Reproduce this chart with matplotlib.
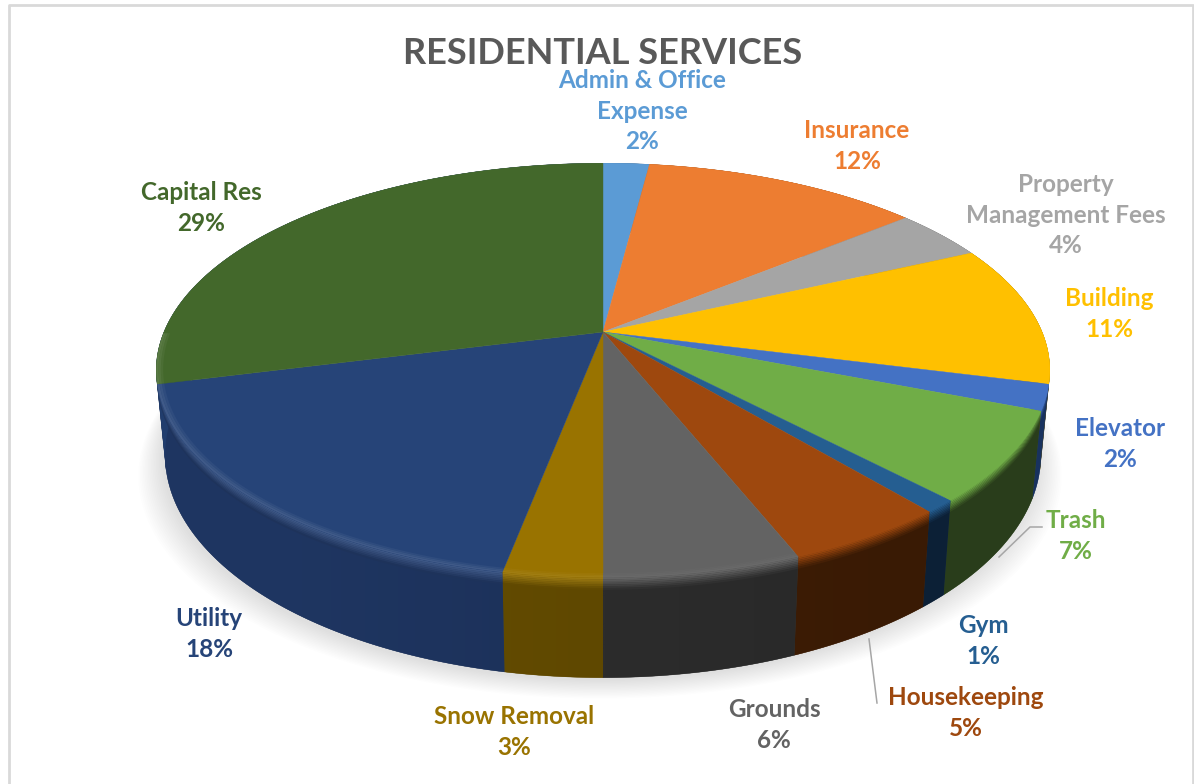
import numpy as np
import matplotlib
matplotlib.use("Agg")
import matplotlib.pyplot as plt
from matplotlib.colors import to_rgb
from matplotlib.patches import Polygon

plt.rcParams['font.family'] = ['Lato', 'DejaVu Sans']

names = ["Admin & Office\nExpense", "Insurance", "Property\nManagement Fees", "Building", "Elevator", "Trash",
         "Gym", "Housekeeping", "Grounds", "Snow Removal", "Utility", "Capital Res"]
shares = [2, 12, 4, 11, 2, 7, 1, 5, 6, 3, 18, 29]

top_colors = ["#5B9BD5", "#ED7D31", "#A5A5A5", "#FFC000", "#4472C4", "#70AD47",
              "#255E91", "#9E480E", "#636363", "#997300", "#264478", "#43682B"]
# the capital wall never shows below its bevel, the utility wall runs up to the outline there
side_colors = ["#33597c", "#8a4a1c", "#606060", "#7f6000", "#1b3768", "#2e441e",
               "#0e243c", "#3f1d05", "#2c2c2c", "#5f4800", "#1c3159", "#1f3864"]

label_xy = [(642, 111), (857, 146), (1066, 215), (1109, 314), (1120, 444), (1076, 536),
            (983, 641), (966, 713), (774, 725), (514, 732), (209, 634), (201, 208)]

# pie projection, in pixels
cx, cy = 603, 332
ax_x, ax_y = 439, 200
persp = 0.1855
depth = 81.5
shrink = 0.98


def rim(theta, r=1.0):
    X, Y = np.sin(theta) * r, np.cos(theta) * r
    w = 1 + persp * Y
    return cx + ax_x * X / w, cy - ax_y * Y / w


def low_rim(theta):
    x, y = rim(theta)
    w = 1 + persp * np.cos(theta)
    return cx + (x - cx) * shrink, y + depth / w


def wall_band(theta, t0, t1):
    x, y = rim(theta)
    xl, yl = low_rim(theta)
    upper = np.c_[x + (xl - x) * t0, y + (yl - y) * t0]
    lower = np.c_[x + (xl - x) * t1, y + (yl - y) * t1]
    return np.r_[upper, lower[::-1]]


def mix(a, b, t):
    return tuple(np.array(a) * (1 - t) + np.array(b) * t)


fig = plt.figure(figsize=(11.94, 7.84), dpi=100)
ax = fig.add_axes([0, 0, 1, 1])
ax.axis('off')

ax.plot([9, 9, 1193, 1193], [784, 5, 5, 784], color="#d9d9d9", lw=2)

# soft drop shadow under the pie
full = np.linspace(0, 2 * np.pi, 361)
bx, by = low_rim(full)
for grow in np.linspace(24, 0, 16):
    sx = cx + (bx - cx) * (1 + grow / 440) - 3
    sy = by + grow * 0.75 + 3
    ax.add_patch(Polygon(np.c_[sx, sy], closed=True, fc="black", ec="none", alpha=0.0085, zorder=1))

edges = np.cumsum([0] + shares) / sum(shares) * 2 * np.pi
bevel = np.linspace(0, 0.12, 8)

for i in range(len(shares)):
    top = to_rgb(top_colors[i])
    side = np.array(to_rgb(side_colors[i]))
    th = np.linspace(edges[i], edges[i + 1], 120)
    mid = (edges[i] + edges[i + 1]) / 2
    lit = 0.12 * np.clip(0.5 - np.sin(mid), 0, 1)
    rim_color = mix(top, (1, 1, 1), lit)

    # wall, a little brighter towards the left
    outline = wall_band(th, 0, 1)
    x0, x1 = outline[:, 0].min(), outline[:, 0].max()
    xs = np.linspace(x0, x1, 64)
    tone = 1 - 0.09 * np.clip((xs - cx) / 300, -1, 1)
    shade = np.clip(side[None, None, :] * tone[None, :, None], 0, 1)
    wall = Polygon(outline, closed=True, fc=side_colors[i], ec=side_colors[i], lw=0.3, zorder=2)
    ax.add_patch(wall)
    img = ax.imshow(shade, extent=(x0, x1, outline[:, 1].max(), outline[:, 1].min()), aspect='auto',
                    interpolation='bilinear', zorder=2.1)
    img.set_clip_path(wall)

    # bevel fading from the rim into the wall
    for t0, t1 in zip(bevel[:-1], bevel[1:]):
        col = mix(rim_color, side * 0.98, (t0 + t1) / 2 / bevel[-1])
        ax.add_patch(Polygon(wall_band(th, t0, t1 + 0.003), closed=True, fc=col, ec="none", zorder=2.2))

for i in range(len(shares)):
    top = to_rgb(top_colors[i])
    th = np.linspace(edges[i], edges[i + 1], 120)
    x, y = rim(th)
    ax.add_patch(Polygon(np.r_[[[cx, cy]], np.c_[x, y]], closed=True, fc=top_colors[i], ec=top_colors[i],
                         lw=0.3, zorder=3))

    # rim highlight on the inner side of the bevel, front half only
    front = th[np.cos(th) < 0]
    if len(front) < 2:
        continue
    mid = (edges[i] + edges[i + 1]) / 2
    lit = 0.12 * np.clip(0.5 - np.sin(mid), 0, 1)
    for r0, r1, t in [(0.985, 0.99, 0.35), (0.99, 0.995, 0.7), (0.995, 1.0, 1.0)]:
        xa, ya = rim(front, r0)
        xb, yb = rim(front, r1)
        ax.add_patch(Polygon(np.r_[np.c_[xa, ya], np.c_[xb, yb][::-1]], closed=True,
                             fc=mix(top, (1, 1, 1), lit * t), ec="none", zorder=4))

# leader lines
ax.plot([999, 1030, 1042], [557, 527, 527], color="#a6a6a6", lw=1.1, zorder=5)
ax.plot([869, 877], [639, 703], color="#a6a6a6", lw=1.1, zorder=5)

ax.text(603, 53, "RESIDENTIAL SERVICES", color="#595959", fontsize=26, fontweight='bold',
        ha='center', va='center', zorder=6)

for name, share, col, (lx, ly) in zip(names, shares, top_colors, label_xy):
    ax.text(lx, ly, f"{name}\n{share}%", color=col, fontsize=17.5, fontweight='bold', ha='center', va='center',
            linespacing=1.4, zorder=6)

ax.set_xlim(0, 1194)
ax.set_ylim(784, 0)

fig.savefig("out.png", dpi=100, facecolor="white")
